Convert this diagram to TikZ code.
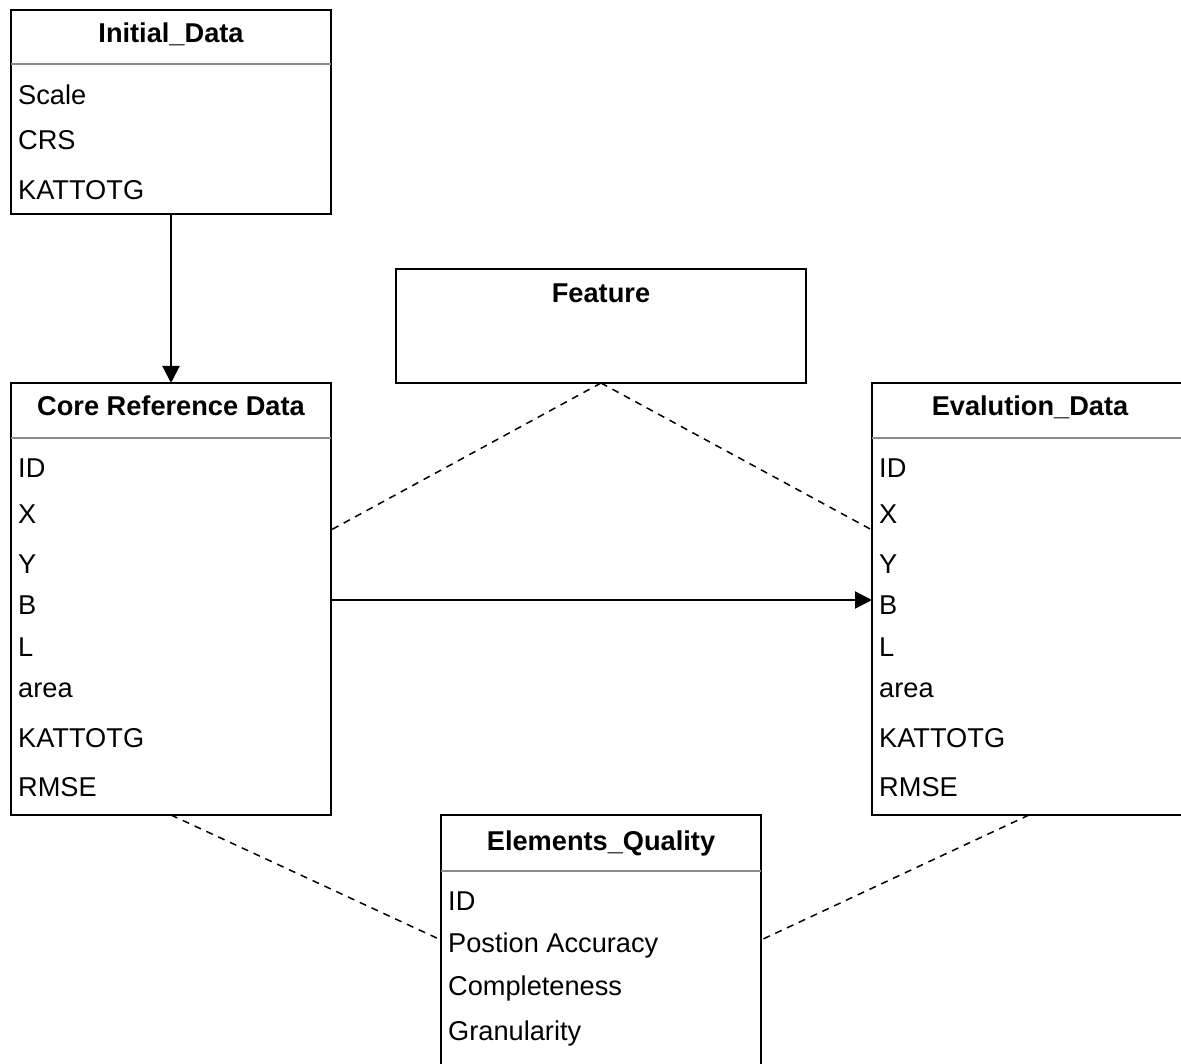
\documentclass[tikz,border=0pt]{standalone}
\usepackage{fontspec}
\setmainfont{Liberation Sans}
\usetikzlibrary{arrows.meta,calc}
\begin{document}
\begin{tikzpicture}[x=1pt,y=-1pt,
  box/.style={draw=black,line width=2pt,rectangle,anchor=north west,inner sep=0pt,outer sep=0pt,fill=white},
  title/.style={font=\fontsize{27.2}{32}\selectfont\bfseries,anchor=base,inner sep=0pt},
  row/.style={font=\fontsize{27.2}{32}\selectfont,anchor=base west,inner sep=0pt},
  sep/.style={draw=black!45,line width=1.5pt},
  solidarrow/.style={line width=2pt,-{Triangle[length=17pt,width=17pt]}},
  dashline/.style={line width=1.5pt,dash pattern=on 7pt off 6pt}]
\useasboundingbox (0,0) rectangle (1181,1064);
\clip (0,0) rectangle (1181,1064);

% Initial_Data
\node[box,minimum width=320pt,minimum height=204pt] (init) at (11,10) {};
\draw[sep] ($(init.north west)+(0,54)$) -- ($(init.north east)+(0,54)$);
\node[title] (initT) at (171,43) {Initial\_Data};
\node[row] (initR1) at (18,105) {Scale};
\node[row] (initR2) at (18,150) {CRS};
\node[row] (initR3) at (18,200) {KATTOTG};

% Feature
\node[box,minimum width=410pt,minimum height=114pt] (feat) at (396,269) {};
\node[title] (featT) at (601,303) {Feature};

% Core Reference Data
\node[box,minimum width=320pt,minimum height=432pt] (core) at (11,383) {};
\draw[sep] ($(core.north west)+(0,55)$) -- ($(core.north east)+(0,55)$);
\node[title] (coreT) at (171,416) {Core Reference Data};
\node[row] (coreR1) at (18,478) {ID};
\node[row] (coreR2) at (18,523) {X};
\node[row] (coreR3) at (18,573) {Y};
\node[row] (coreR4) at (18,614) {B};
\node[row] (coreR5) at (18,656) {L};
\node[row] (coreR6) at (18,697) {area};
\node[row] (coreR7) at (18,747) {KATTOTG};
\node[row] (coreR8) at (18,796) {RMSE};

% Evalution_Data
\node[box,minimum width=314pt,minimum height=432pt] (evalu) at (872,383) {};
\draw[sep] ($(evalu.north west)+(0,55)$) -- ($(evalu.north east)+(0,55)$);
\node[title] (evaluT) at (1030,416) {Evalution\_Data};
\node[row] (evaluR1) at (879,478) {ID};
\node[row] (evaluR2) at (879,523) {X};
\node[row] (evaluR3) at (879,573) {Y};
\node[row] (evaluR4) at (879,614) {B};
\node[row] (evaluR5) at (879,656) {L};
\node[row] (evaluR6) at (879,697) {area};
\node[row] (evaluR7) at (879,747) {KATTOTG};
\node[row] (evaluR8) at (879,796) {RMSE};

% Elements_Quality
\node[box,minimum width=320pt,minimum height=270pt] (eq) at (441,815) {};
\draw[sep] ($(eq.north west)+(0,56)$) -- ($(eq.north east)+(0,56)$);
\node[title] (eqT) at (601,850) {Elements\_Quality};
\node[row] (eqR1) at (448,910) {ID};
\node[row] (eqR2) at (448,952) {Postion Accuracy};
\node[row] (eqR3) at (448,995) {Completeness};
\node[row] (eqR4) at (448,1040) {Granularity};

% connectors
\draw[solidarrow] (init.south) -- (core.north);
\draw[solidarrow] ($(core.north east)+(0,217)$) -- ($(evalu.north west)+(0,217)$);
\draw[dashline] (feat.south) -- ($(core.north east)+(0,147)$);
\draw[dashline] (feat.south) -- ($(evalu.north west)+(0,147)$);
\draw[dashline] (core.south) -- ($(eq.north west)+(0,125)$);
\draw[dashline] (evalu.south) -- ($(eq.north east)+(0,125)$);
\end{tikzpicture}
\end{document}
